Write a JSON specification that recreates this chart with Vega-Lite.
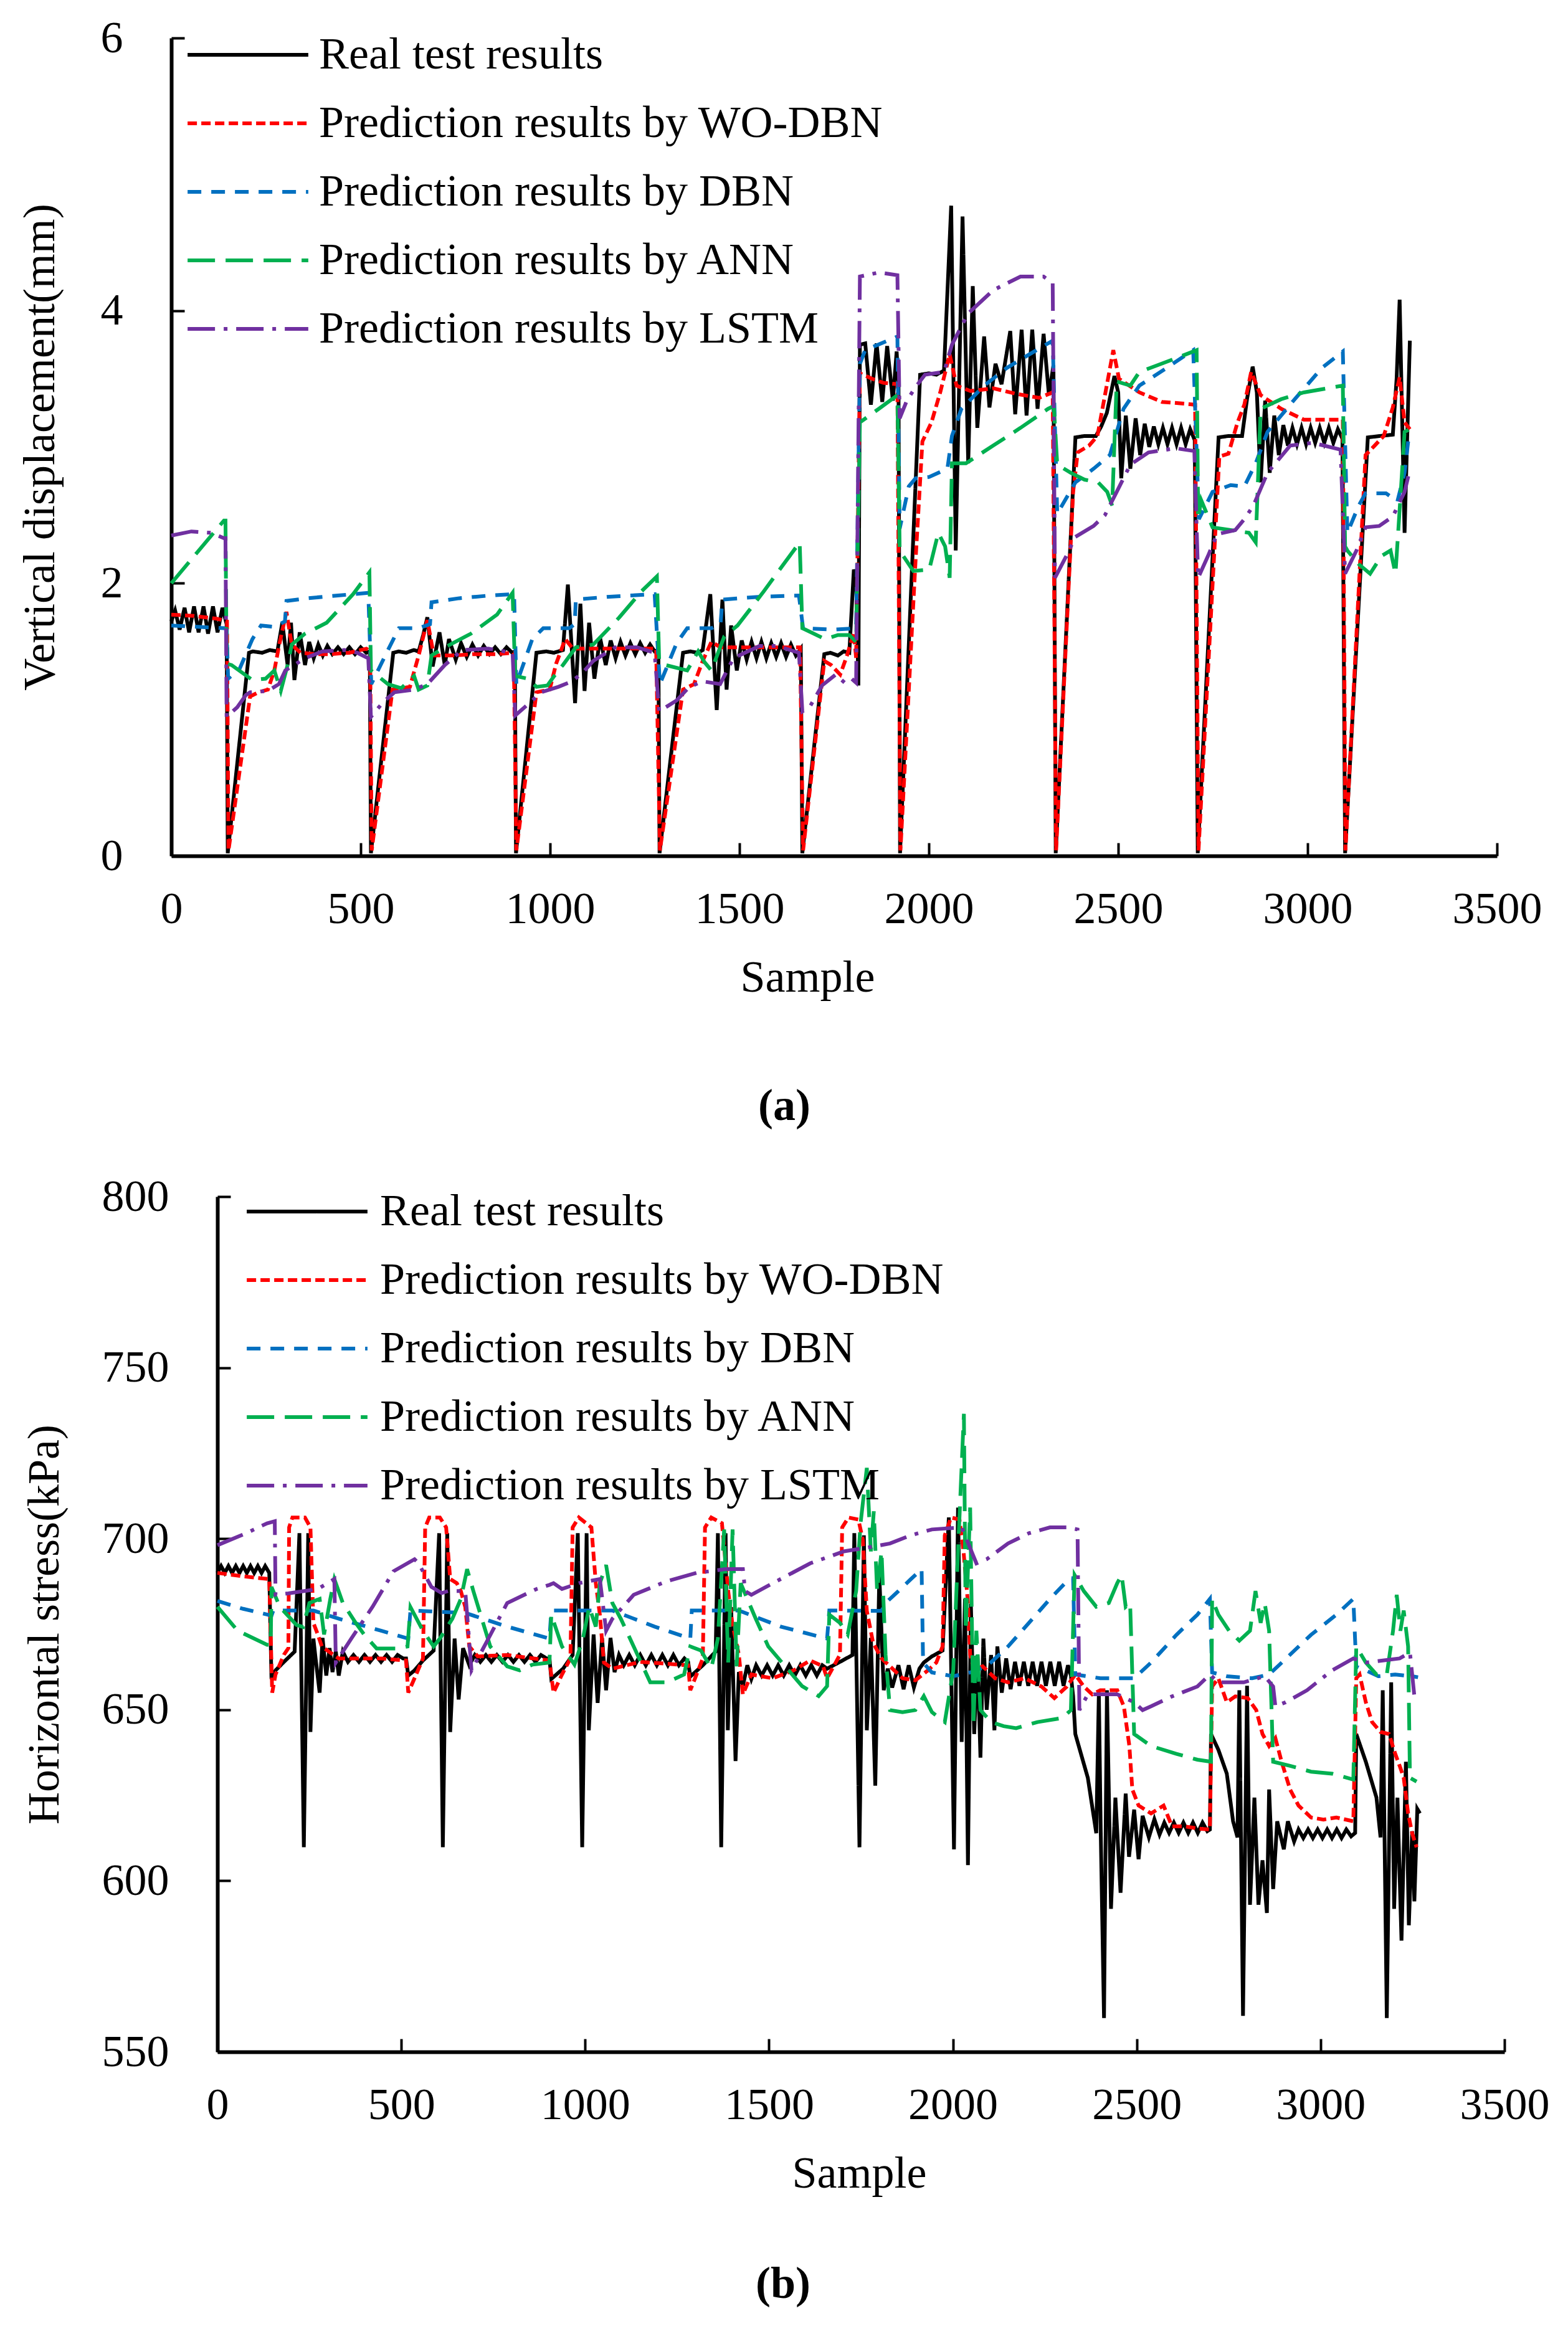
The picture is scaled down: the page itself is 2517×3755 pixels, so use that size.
{
  "$schema": "https://vega.github.io/schema/vega-lite/v6.json",
  "background": "white",
  "padding": {"left": 28, "top": 14, "right": 0, "bottom": 30},
  "config": {
    "font": "Liberation Serif",
    "view": {"stroke": null},
    "axis": {
      "labelFont": "Liberation Serif", "titleFont": "Liberation Serif",
      "labelFontSize": 72, "titleFontSize": 72, "titleFontWeight": "normal",
      "labelColor": "black", "titleColor": "black",
      "domainColor": "black", "domainWidth": 6, "tickColor": "black", "tickWidth": 4,
      "tickSize": -21, "grid": false, "labelPadding": 99
    },
    "legend": {"labelFont": "Liberation Serif", "labelFontSize": 72, "labelColor": "black", "labelLimit": 3000},
    "title": {"font": "Liberation Serif", "fontSize": 72, "fontWeight": "bold", "color": "black"}
  },
  "datasets": {
    "a": [
      {"k":"R","x":0,"y":1.72},{"k":"R","x":10,"y":1.80},{"k":"R","x":22,"y":1.66},{"k":"R","x":35,"y":1.82},{"k":"R","x":47,"y":1.64},{"k":"R","x":60,"y":1.83},{"k":"R","x":72,"y":1.64},{"k":"R","x":85,"y":1.83},{"k":"R","x":97,"y":1.63},{"k":"R","x":110,"y":1.83},{"k":"R","x":122,"y":1.64},{"k":"R","x":135,"y":1.82},{"k":"R","x":146,"y":1.70},{"k":"R","x":149,"y":0.02},{"k":"R","x":205,"y":1.49},{"k":"R","x":215,"y":1.50},{"k":"R","x":240,"y":1.49},{"k":"R","x":260,"y":1.51},{"k":"R","x":280,"y":1.50},{"k":"R","x":293,"y":1.71},{"k":"R","x":307,"y":1.40},{"k":"R","x":316,"y":1.71},{"k":"R","x":325,"y":1.29},{"k":"R","x":339,"y":1.64},{"k":"R","x":353,"y":1.40},{"k":"R","x":364,"y":1.57},{"k":"R","x":376,"y":1.45},{"k":"R","x":388,"y":1.55},{"k":"R","x":400,"y":1.47},{"k":"R","x":412,"y":1.54},{"k":"R","x":425,"y":1.48},{"k":"R","x":440,"y":1.53},{"k":"R","x":455,"y":1.48},{"k":"R","x":470,"y":1.53},{"k":"R","x":485,"y":1.48},{"k":"R","x":500,"y":1.53},{"k":"R","x":515,"y":1.49},{"k":"R","x":524,"y":1.50},{"k":"R","x":527,"y":0.02},{"k":"R","x":586,"y":1.49},{"k":"R","x":600,"y":1.50},{"k":"R","x":620,"y":1.49},{"k":"R","x":640,"y":1.51},{"k":"R","x":653,"y":1.50},{"k":"R","x":665,"y":1.62},{"k":"R","x":676,"y":1.75},{"k":"R","x":690,"y":1.39},{"k":"R","x":708,"y":1.64},{"k":"R","x":722,"y":1.40},{"k":"R","x":733,"y":1.59},{"k":"R","x":751,"y":1.44},{"k":"R","x":765,"y":1.56},{"k":"R","x":780,"y":1.46},{"k":"R","x":795,"y":1.55},{"k":"R","x":810,"y":1.47},{"k":"R","x":825,"y":1.54},{"k":"R","x":840,"y":1.48},{"k":"R","x":855,"y":1.53},{"k":"R","x":870,"y":1.48},{"k":"R","x":885,"y":1.53},{"k":"R","x":900,"y":1.49},{"k":"R","x":907,"y":1.50},{"k":"R","x":910,"y":0.02},{"k":"R","x":964,"y":1.49},{"k":"R","x":990,"y":1.50},{"k":"R","x":1010,"y":1.49},{"k":"R","x":1034,"y":1.51},{"k":"R","x":1047,"y":1.99},{"k":"R","x":1066,"y":1.12},{"k":"R","x":1080,"y":1.85},{"k":"R","x":1091,"y":1.21},{"k":"R","x":1103,"y":1.71},{"k":"R","x":1117,"y":1.30},{"k":"R","x":1132,"y":1.60},{"k":"R","x":1147,"y":1.40},{"k":"R","x":1160,"y":1.58},{"k":"R","x":1173,"y":1.45},{"k":"R","x":1186,"y":1.57},{"k":"R","x":1199,"y":1.47},{"k":"R","x":1212,"y":1.56},{"k":"R","x":1225,"y":1.48},{"k":"R","x":1238,"y":1.56},{"k":"R","x":1251,"y":1.49},{"k":"R","x":1264,"y":1.55},{"k":"R","x":1276,"y":1.50},{"k":"R","x":1286,"y":1.51},{"k":"R","x":1289,"y":0.02},{"k":"R","x":1351,"y":1.49},{"k":"R","x":1370,"y":1.50},{"k":"R","x":1390,"y":1.49},{"k":"R","x":1403,"y":1.51},{"k":"R","x":1423,"y":1.92},{"k":"R","x":1440,"y":1.07},{"k":"R","x":1455,"y":1.88},{"k":"R","x":1466,"y":1.22},{"k":"R","x":1478,"y":1.69},{"k":"R","x":1493,"y":1.36},{"k":"R","x":1506,"y":1.58},{"k":"R","x":1519,"y":1.44},{"k":"R","x":1532,"y":1.57},{"k":"R","x":1545,"y":1.45},{"k":"R","x":1558,"y":1.57},{"k":"R","x":1571,"y":1.45},{"k":"R","x":1584,"y":1.56},{"k":"R","x":1597,"y":1.46},{"k":"R","x":1610,"y":1.56},{"k":"R","x":1623,"y":1.46},{"k":"R","x":1636,"y":1.55},{"k":"R","x":1649,"y":1.47},{"k":"R","x":1662,"y":1.52},{"k":"R","x":1666,"y":0.02},{"k":"R","x":1724,"y":1.48},{"k":"R","x":1740,"y":1.49},{"k":"R","x":1760,"y":1.47},{"k":"R","x":1775,"y":1.50},{"k":"R","x":1790,"y":1.49},{"k":"R","x":1802,"y":2.10},{"k":"R","x":1808,"y":2.05},{"k":"R","x":1814,"y":1.25},{"k":"R","x":1818,"y":3.75},{"k":"R","x":1832,"y":3.76},{"k":"R","x":1847,"y":3.31},{"k":"R","x":1862,"y":3.76},{"k":"R","x":1877,"y":3.33},{"k":"R","x":1890,"y":3.74},{"k":"R","x":1905,"y":3.34},{"k":"R","x":1915,"y":3.70},{"k":"R","x":1920,"y":3.45},{"k":"R","x":1924,"y":0.02},{"k":"R","x":1977,"y":3.53},{"k":"R","x":2000,"y":3.54},{"k":"R","x":2020,"y":3.53},{"k":"R","x":2040,"y":3.56},{"k":"R","x":2059,"y":4.77},{"k":"R","x":2071,"y":2.24},{"k":"R","x":2089,"y":4.69},{"k":"R","x":2104,"y":2.88},{"k":"R","x":2116,"y":4.18},{"k":"R","x":2128,"y":3.14},{"k":"R","x":2146,"y":3.81},{"k":"R","x":2160,"y":3.29},{"k":"R","x":2176,"y":3.61},{"k":"R","x":2192,"y":3.46},{"k":"R","x":2215,"y":3.85},{"k":"R","x":2228,"y":3.24},{"k":"R","x":2245,"y":3.86},{"k":"R","x":2258,"y":3.23},{"k":"R","x":2273,"y":3.86},{"k":"R","x":2287,"y":3.28},{"k":"R","x":2303,"y":3.83},{"k":"R","x":2317,"y":3.38},{"k":"R","x":2329,"y":3.60},{"k":"R","x":2335,"y":0.02},{"k":"R","x":2387,"y":3.07},{"k":"R","x":2410,"y":3.08},{"k":"R","x":2441,"y":3.08},{"k":"R","x":2455,"y":3.15},{"k":"R","x":2470,"y":3.25},{"k":"R","x":2490,"y":3.52},{"k":"R","x":2500,"y":3.40},{"k":"R","x":2508,"y":2.77},{"k":"R","x":2520,"y":3.23},{"k":"R","x":2532,"y":2.84},{"k":"R","x":2546,"y":3.21},{"k":"R","x":2558,"y":2.94},{"k":"R","x":2570,"y":3.17},{"k":"R","x":2582,"y":3.00},{"k":"R","x":2594,"y":3.15},{"k":"R","x":2606,"y":3.02},{"k":"R","x":2618,"y":3.14},{"k":"R","x":2630,"y":3.02},{"k":"R","x":2642,"y":3.14},{"k":"R","x":2654,"y":3.02},{"k":"R","x":2666,"y":3.14},{"k":"R","x":2678,"y":3.02},{"k":"R","x":2690,"y":3.13},{"k":"R","x":2702,"y":3.05},{"k":"R","x":2710,"y":0.02},{"k":"R","x":2765,"y":3.07},{"k":"R","x":2790,"y":3.08},{"k":"R","x":2827,"y":3.08},{"k":"R","x":2840,"y":3.35},{"k":"R","x":2855,"y":3.59},{"k":"R","x":2866,"y":3.40},{"k":"R","x":2876,"y":2.74},{"k":"R","x":2888,"y":3.34},{"k":"R","x":2900,"y":2.81},{"k":"R","x":2912,"y":3.23},{"k":"R","x":2924,"y":2.94},{"k":"R","x":2936,"y":3.16},{"k":"R","x":2948,"y":3.01},{"k":"R","x":2960,"y":3.14},{"k":"R","x":2972,"y":3.02},{"k":"R","x":2984,"y":3.14},{"k":"R","x":2996,"y":3.02},{"k":"R","x":3008,"y":3.14},{"k":"R","x":3020,"y":3.03},{"k":"R","x":3032,"y":3.14},{"k":"R","x":3044,"y":3.03},{"k":"R","x":3056,"y":3.14},{"k":"R","x":3068,"y":3.03},{"k":"R","x":3080,"y":3.13},{"k":"R","x":3092,"y":3.06},{"k":"R","x":3099,"y":0.02},{"k":"R","x":3159,"y":3.07},{"k":"R","x":3190,"y":3.08},{"k":"R","x":3225,"y":3.09},{"k":"R","x":3235,"y":3.50},{"k":"R","x":3243,"y":4.08},{"k":"R","x":3256,"y":2.37},{"k":"R","x":3270,"y":3.78},

      {"k":"W","x":0,"y":1.77},{"k":"W","x":60,"y":1.76},{"k":"W","x":120,"y":1.74},{"k":"W","x":147,"y":1.72},{"k":"W","x":151,"y":0.04},{"k":"W","x":208,"y":1.17},{"k":"W","x":230,"y":1.20},{"k":"W","x":255,"y":1.22},{"k":"W","x":272,"y":1.36},{"k":"W","x":285,"y":1.55},{"k":"W","x":304,"y":1.79},{"k":"W","x":318,"y":1.55},{"k":"W","x":341,"y":1.49},{"k":"W","x":380,"y":1.48},{"k":"W","x":420,"y":1.48},{"k":"W","x":470,"y":1.49},{"k":"W","x":515,"y":1.52},{"k":"W","x":525,"y":1.50},{"k":"W","x":529,"y":0.04},{"k":"W","x":584,"y":1.22},{"k":"W","x":630,"y":1.24},{"k":"W","x":653,"y":1.47},{"k":"W","x":676,"y":1.73},{"k":"W","x":693,"y":1.47},{"k":"W","x":740,"y":1.47},{"k":"W","x":800,"y":1.48},{"k":"W","x":860,"y":1.48},{"k":"W","x":904,"y":1.49},{"k":"W","x":911,"y":0.04},{"k":"W","x":964,"y":1.20},{"k":"W","x":999,"y":1.22},{"k":"W","x":1016,"y":1.41},{"k":"W","x":1040,"y":1.59},{"k":"W","x":1060,"y":1.52},{"k":"W","x":1120,"y":1.52},{"k":"W","x":1200,"y":1.52},{"k":"W","x":1280,"y":1.52},{"k":"W","x":1290,"y":0.04},{"k":"W","x":1351,"y":1.22},{"k":"W","x":1380,"y":1.26},{"k":"W","x":1403,"y":1.43},{"k":"W","x":1426,"y":1.57},{"k":"W","x":1450,"y":1.53},{"k":"W","x":1520,"y":1.53},{"k":"W","x":1600,"y":1.53},{"k":"W","x":1660,"y":1.53},{"k":"W","x":1668,"y":0.04},{"k":"W","x":1724,"y":1.43},{"k":"W","x":1742,"y":1.40},{"k":"W","x":1766,"y":1.33},{"k":"W","x":1784,"y":1.47},{"k":"W","x":1802,"y":1.64},{"k":"W","x":1808,"y":1.45},{"k":"W","x":1818,"y":3.54},{"k":"W","x":1850,"y":3.50},{"k":"W","x":1880,"y":3.47},{"k":"W","x":1917,"y":3.46},{"k":"W","x":1925,"y":0.04},{"k":"W","x":1965,"y":2.17},{"k":"W","x":1983,"y":3.04},{"k":"W","x":2007,"y":3.18},{"k":"W","x":2031,"y":3.41},{"k":"W","x":2055,"y":3.68},{"k":"W","x":2073,"y":3.45},{"k":"W","x":2110,"y":3.41},{"k":"W","x":2170,"y":3.43},{"k":"W","x":2230,"y":3.39},{"k":"W","x":2291,"y":3.36},{"k":"W","x":2327,"y":3.40},{"k":"W","x":2336,"y":0.04},{"k":"W","x":2381,"y":2.67},{"k":"W","x":2393,"y":2.96},{"k":"W","x":2423,"y":3.01},{"k":"W","x":2445,"y":3.08},{"k":"W","x":2465,"y":3.38},{"k":"W","x":2487,"y":3.71},{"k":"W","x":2502,"y":3.50},{"k":"W","x":2556,"y":3.40},{"k":"W","x":2616,"y":3.33},{"k":"W","x":2664,"y":3.32},{"k":"W","x":2703,"y":3.31},{"k":"W","x":2712,"y":0.04},{"k":"W","x":2767,"y":2.93},{"k":"W","x":2791,"y":2.95},{"k":"W","x":2815,"y":3.18},{"k":"W","x":2833,"y":3.31},{"k":"W","x":2851,"y":3.55},{"k":"W","x":2876,"y":3.38},{"k":"W","x":2930,"y":3.28},{"k":"W","x":2990,"y":3.20},{"k":"W","x":3093,"y":3.20},{"k":"W","x":3100,"y":0.04},{"k":"W","x":3153,"y":2.94},{"k":"W","x":3177,"y":3.01},{"k":"W","x":3201,"y":3.08},{"k":"W","x":3225,"y":3.29},{"k":"W","x":3243,"y":3.51},{"k":"W","x":3256,"y":3.18},{"k":"W","x":3270,"y":3.13},

      {"k":"D","x":0,"y":1.69},{"k":"D","x":70,"y":1.68},{"k":"D","x":140,"y":1.67},{"k":"D","x":146,"y":1.66},{"k":"D","x":150,"y":1.30},{"k":"D","x":162,"y":1.33},{"k":"D","x":180,"y":1.37},{"k":"D","x":214,"y":1.59},{"k":"D","x":237,"y":1.69},{"k":"D","x":272,"y":1.68},{"k":"D","x":300,"y":1.72},{"k":"D","x":304,"y":1.87},{"k":"D","x":360,"y":1.89},{"k":"D","x":440,"y":1.91},{"k":"D","x":520,"y":1.93},{"k":"D","x":528,"y":1.26},{"k":"D","x":572,"y":1.51},{"k":"D","x":601,"y":1.67},{"k":"D","x":653,"y":1.67},{"k":"D","x":683,"y":1.70},{"k":"D","x":687,"y":1.86},{"k":"D","x":760,"y":1.89},{"k":"D","x":840,"y":1.91},{"k":"D","x":905,"y":1.92},{"k":"D","x":911,"y":1.26},{"k":"D","x":953,"y":1.59},{"k":"D","x":982,"y":1.67},{"k":"D","x":1051,"y":1.67},{"k":"D","x":1065,"y":1.70},{"k":"D","x":1068,"y":1.88},{"k":"D","x":1150,"y":1.90},{"k":"D","x":1276,"y":1.92},{"k":"D","x":1290,"y":1.26},{"k":"D","x":1334,"y":1.56},{"k":"D","x":1362,"y":1.67},{"k":"D","x":1426,"y":1.67},{"k":"D","x":1450,"y":1.70},{"k":"D","x":1455,"y":1.88},{"k":"D","x":1550,"y":1.90},{"k":"D","x":1657,"y":1.91},{"k":"D","x":1668,"y":1.67},{"k":"D","x":1750,"y":1.66},{"k":"D","x":1808,"y":1.67},{"k":"D","x":1818,"y":3.61},{"k":"D","x":1832,"y":3.71},{"k":"D","x":1917,"y":3.81},{"k":"D","x":1923,"y":2.40},{"k":"D","x":1947,"y":2.71},{"k":"D","x":1965,"y":2.77},{"k":"D","x":2001,"y":2.78},{"k":"D","x":2049,"y":2.84},{"k":"D","x":2061,"y":3.08},{"k":"D","x":2086,"y":3.28},{"k":"D","x":2146,"y":3.45},{"k":"D","x":2206,"y":3.58},{"k":"D","x":2266,"y":3.68},{"k":"D","x":2327,"y":3.78},{"k":"D","x":2339,"y":2.51},{"k":"D","x":2387,"y":2.74},{"k":"D","x":2435,"y":2.84},{"k":"D","x":2478,"y":2.94},{"k":"D","x":2514,"y":3.28},{"k":"D","x":2556,"y":3.45},{"k":"D","x":2628,"y":3.58},{"k":"D","x":2698,"y":3.71},{"k":"D","x":2713,"y":2.47},{"k":"D","x":2749,"y":2.67},{"k":"D","x":2797,"y":2.72},{"k":"D","x":2833,"y":2.71},{"k":"D","x":2863,"y":2.88},{"k":"D","x":2894,"y":3.11},{"k":"D","x":2966,"y":3.35},{"k":"D","x":3038,"y":3.58},{"k":"D","x":3093,"y":3.70},{"k":"D","x":3105,"y":2.37},{"k":"D","x":3135,"y":2.57},{"k":"D","x":3153,"y":2.66},{"k":"D","x":3207,"y":2.66},{"k":"D","x":3237,"y":2.60},{"k":"D","x":3256,"y":2.81},{"k":"D","x":3268,"y":3.10},

      {"k":"A","x":0,"y":2.00},{"k":"A","x":139,"y":2.46},{"k":"A","x":143,"y":2.46},{"k":"A","x":146,"y":1.41},{"k":"A","x":159,"y":1.40},{"k":"A","x":214,"y":1.29},{"k":"A","x":249,"y":1.30},{"k":"A","x":272,"y":1.36},{"k":"A","x":289,"y":1.21},{"k":"A","x":307,"y":1.40},{"k":"A","x":318,"y":1.55},{"k":"A","x":353,"y":1.63},{"k":"A","x":410,"y":1.71},{"k":"A","x":480,"y":1.92},{"k":"A","x":523,"y":2.08},{"k":"A","x":527,"y":1.36},{"k":"A","x":572,"y":1.26},{"k":"A","x":607,"y":1.23},{"k":"A","x":641,"y":1.32},{"k":"A","x":653,"y":1.22},{"k":"A","x":676,"y":1.25},{"k":"A","x":687,"y":1.47},{"k":"A","x":722,"y":1.53},{"k":"A","x":791,"y":1.63},{"k":"A","x":860,"y":1.77},{"k":"A","x":901,"y":1.93},{"k":"A","x":908,"y":1.32},{"k":"A","x":941,"y":1.30},{"k":"A","x":964,"y":1.24},{"k":"A","x":993,"y":1.25},{"k":"A","x":1016,"y":1.34},{"k":"A","x":1034,"y":1.40},{"k":"A","x":1068,"y":1.53},{"k":"A","x":1114,"y":1.55},{"k":"A","x":1183,"y":1.75},{"k":"A","x":1241,"y":1.94},{"k":"A","x":1282,"y":2.05},{"k":"A","x":1288,"y":1.43},{"k":"A","x":1305,"y":1.40},{"k":"A","x":1362,"y":1.36},{"k":"A","x":1391,"y":1.50},{"k":"A","x":1408,"y":1.42},{"k":"A","x":1426,"y":1.36},{"k":"A","x":1460,"y":1.61},{"k":"A","x":1495,"y":1.69},{"k":"A","x":1564,"y":1.94},{"k":"A","x":1622,"y":2.16},{"k":"A","x":1659,"y":2.30},{"k":"A","x":1666,"y":1.67},{"k":"A","x":1674,"y":1.66},{"k":"A","x":1726,"y":1.59},{"k":"A","x":1760,"y":1.62},{"k":"A","x":1790,"y":1.62},{"k":"A","x":1808,"y":1.57},{"k":"A","x":1818,"y":3.18},{"k":"A","x":1868,"y":3.28},{"k":"A","x":1917,"y":3.38},{"k":"A","x":1923,"y":2.24},{"k":"A","x":1959,"y":2.09},{"k":"A","x":2001,"y":2.10},{"k":"A","x":2025,"y":2.37},{"k":"A","x":2043,"y":2.27},{"k":"A","x":2055,"y":2.04},{"k":"A","x":2061,"y":2.88},{"k":"A","x":2098,"y":2.88},{"k":"A","x":2170,"y":3.01},{"k":"A","x":2242,"y":3.14},{"k":"A","x":2315,"y":3.28},{"k":"A","x":2330,"y":3.30},{"k":"A","x":2339,"y":2.87},{"k":"A","x":2375,"y":2.81},{"k":"A","x":2411,"y":2.76},{"k":"A","x":2447,"y":2.74},{"k":"A","x":2471,"y":2.67},{"k":"A","x":2484,"y":2.57},{"k":"A","x":2496,"y":3.48},{"k":"A","x":2532,"y":3.45},{"k":"A","x":2556,"y":3.55},{"k":"A","x":2604,"y":3.60},{"k":"A","x":2652,"y":3.65},{"k":"A","x":2707,"y":3.71},{"k":"A","x":2711,"y":2.47},{"k":"A","x":2719,"y":2.61},{"k":"A","x":2749,"y":2.41},{"k":"A","x":2797,"y":2.39},{"k":"A","x":2845,"y":2.37},{"k":"A","x":2863,"y":2.30},{"k":"A","x":2876,"y":3.28},{"k":"A","x":2930,"y":3.35},{"k":"A","x":2990,"y":3.40},{"k":"A","x":3093,"y":3.45},{"k":"A","x":3099,"y":2.27},{"k":"A","x":3105,"y":2.24},{"k":"A","x":3135,"y":2.14},{"k":"A","x":3165,"y":2.07},{"k":"A","x":3195,"y":2.20},{"k":"A","x":3219,"y":2.24},{"k":"A","x":3232,"y":2.07},{"k":"A","x":3243,"y":2.54},{"k":"A","x":3256,"y":3.11},{"k":"A","x":3270,"y":3.13},

      {"k":"L","x":0,"y":2.35},{"k":"L","x":53,"y":2.38},{"k":"L","x":105,"y":2.37},{"k":"L","x":139,"y":2.33},{"k":"L","x":143,"y":2.33},{"k":"L","x":146,"y":1.02},{"k":"L","x":174,"y":1.09},{"k":"L","x":197,"y":1.18},{"k":"L","x":208,"y":1.20},{"k":"L","x":255,"y":1.21},{"k":"L","x":284,"y":1.26},{"k":"L","x":301,"y":1.36},{"k":"L","x":353,"y":1.45},{"k":"L","x":399,"y":1.50},{"k":"L","x":457,"y":1.51},{"k":"L","x":491,"y":1.49},{"k":"L","x":520,"y":1.45},{"k":"L","x":527,"y":1.02},{"k":"L","x":560,"y":1.13},{"k":"L","x":589,"y":1.20},{"k":"L","x":641,"y":1.22},{"k":"L","x":676,"y":1.26},{"k":"L","x":722,"y":1.40},{"k":"L","x":768,"y":1.51},{"k":"L","x":837,"y":1.52},{"k":"L","x":901,"y":1.49},{"k":"L","x":908,"y":1.03},{"k":"L","x":953,"y":1.14},{"k":"L","x":976,"y":1.20},{"k":"L","x":1022,"y":1.24},{"k":"L","x":1057,"y":1.28},{"k":"L","x":1085,"y":1.34},{"k":"L","x":1114,"y":1.43},{"k":"L","x":1172,"y":1.53},{"k":"L","x":1230,"y":1.53},{"k":"L","x":1276,"y":1.49},{"k":"L","x":1288,"y":1.06},{"k":"L","x":1334,"y":1.14},{"k":"L","x":1368,"y":1.24},{"k":"L","x":1403,"y":1.28},{"k":"L","x":1449,"y":1.26},{"k":"L","x":1484,"y":1.45},{"k":"L","x":1553,"y":1.54},{"k":"L","x":1599,"y":1.54},{"k":"L","x":1657,"y":1.49},{"k":"L","x":1666,"y":1.06},{"k":"L","x":1687,"y":1.10},{"k":"L","x":1718,"y":1.25},{"k":"L","x":1754,"y":1.33},{"k":"L","x":1778,"y":1.27},{"k":"L","x":1796,"y":1.30},{"k":"L","x":1808,"y":1.27},{"k":"L","x":1818,"y":4.25},{"k":"L","x":1868,"y":4.28},{"k":"L","x":1917,"y":4.26},{"k":"L","x":1923,"y":3.21},{"k":"L","x":1942,"y":3.34},{"k":"L","x":1965,"y":3.44},{"k":"L","x":1990,"y":3.53},{"k":"L","x":2040,"y":3.55},{"k":"L","x":2061,"y":3.75},{"k":"L","x":2104,"y":3.98},{"k":"L","x":2170,"y":4.15},{"k":"L","x":2242,"y":4.25},{"k":"L","x":2303,"y":4.25},{"k":"L","x":2327,"y":4.20},{"k":"L","x":2333,"y":2.04},{"k":"L","x":2363,"y":2.20},{"k":"L","x":2387,"y":2.34},{"k":"L","x":2435,"y":2.42},{"k":"L","x":2465,"y":2.50},{"k":"L","x":2496,"y":2.67},{"k":"L","x":2532,"y":2.87},{"k":"L","x":2580,"y":2.96},{"k":"L","x":2652,"y":2.99},{"k":"L","x":2701,"y":2.97},{"k":"L","x":2711,"y":2.04},{"k":"L","x":2737,"y":2.20},{"k":"L","x":2761,"y":2.36},{"k":"L","x":2809,"y":2.39},{"k":"L","x":2833,"y":2.47},{"k":"L","x":2857,"y":2.57},{"k":"L","x":2894,"y":2.81},{"k":"L","x":2954,"y":3.01},{"k":"L","x":3014,"y":3.03},{"k":"L","x":3087,"y":2.98},{"k":"L","x":3099,"y":2.07},{"k":"L","x":3129,"y":2.24},{"k":"L","x":3153,"y":2.41},{"k":"L","x":3189,"y":2.42},{"k":"L","x":3225,"y":2.49},{"k":"L","x":3256,"y":2.67},{"k":"L","x":3268,"y":2.81}
    ],
    "b": [
      {"k":"R","x":0,"y":690},{"k":"R","x":10,"y":692},{"k":"R","x":20,"y":690},{"k":"R","x":30,"y":692},{"k":"R","x":40,"y":690},{"k":"R","x":50,"y":692},{"k":"R","x":60,"y":690},{"k":"R","x":70,"y":692},{"k":"R","x":80,"y":690},{"k":"R","x":90,"y":692},{"k":"R","x":100,"y":690},{"k":"R","x":110,"y":692},{"k":"R","x":120,"y":690},{"k":"R","x":130,"y":692},{"k":"R","x":141,"y":690},{"k":"R","x":147,"y":659},{"k":"R","x":158,"y":661.5},{"k":"R","x":181,"y":664},{"k":"R","x":210,"y":667},{"k":"R","x":223,"y":701.6},{"k":"R","x":235,"y":609.8},{"k":"R","x":247,"y":701.6},{"k":"R","x":253,"y":643.5},{"k":"R","x":261,"y":670.8},{"k":"R","x":267,"y":665},{"k":"R","x":278,"y":655},{"k":"R","x":286,"y":671},{"k":"R","x":296,"y":660},{"k":"R","x":305,"y":668},{"k":"R","x":313,"y":661},{"k":"R","x":322,"y":667},{"k":"R","x":330,"y":660},{"k":"R","x":341,"y":667},{"k":"R","x":355,"y":664},{"k":"R","x":370,"y":666},{"k":"R","x":385,"y":664},{"k":"R","x":400,"y":666},{"k":"R","x":415,"y":664},{"k":"R","x":430,"y":666},{"k":"R","x":445,"y":664},{"k":"R","x":460,"y":666},{"k":"R","x":475,"y":664},{"k":"R","x":490,"y":666},{"k":"R","x":505,"y":665},{"k":"R","x":513,"y":665},{"k":"R","x":519,"y":660},{"k":"R","x":536,"y":661.5},{"k":"R","x":559,"y":664.4},{"k":"R","x":588,"y":667.3},{"k":"R","x":603,"y":701.6},{"k":"R","x":613,"y":609.8},{"k":"R","x":625,"y":701.6},{"k":"R","x":633,"y":643.5},{"k":"R","x":645,"y":670.8},{"k":"R","x":656,"y":653},{"k":"R","x":668,"y":668},{"k":"R","x":685,"y":663},{"k":"R","x":700,"y":666},{"k":"R","x":715,"y":664},{"k":"R","x":730,"y":666},{"k":"R","x":745,"y":664},{"k":"R","x":760,"y":666},{"k":"R","x":775,"y":664},{"k":"R","x":790,"y":666},{"k":"R","x":805,"y":664},{"k":"R","x":820,"y":666},{"k":"R","x":835,"y":664},{"k":"R","x":850,"y":666},{"k":"R","x":865,"y":664},{"k":"R","x":880,"y":666},{"k":"R","x":895,"y":665},{"k":"R","x":903,"y":665},{"k":"R","x":908,"y":659},{"k":"R","x":940,"y":662},{"k":"R","x":966,"y":666},{"k":"R","x":980,"y":701.6},{"k":"R","x":992,"y":609.8},{"k":"R","x":1004,"y":701.6},{"k":"R","x":1010,"y":644},{"k":"R","x":1023,"y":672},{"k":"R","x":1034,"y":652},{"k":"R","x":1046,"y":671},{"k":"R","x":1057,"y":655.7},{"k":"R","x":1069,"y":671},{"k":"R","x":1080,"y":661},{"k":"R","x":1092,"y":666},{"k":"R","x":1105,"y":663},{"k":"R","x":1120,"y":666},{"k":"R","x":1135,"y":663},{"k":"R","x":1150,"y":666},{"k":"R","x":1165,"y":663},{"k":"R","x":1180,"y":666},{"k":"R","x":1195,"y":663},{"k":"R","x":1210,"y":666},{"k":"R","x":1225,"y":663},{"k":"R","x":1240,"y":666},{"k":"R","x":1255,"y":663},{"k":"R","x":1270,"y":665},{"k":"R","x":1280,"y":664},{"k":"R","x":1286,"y":659.7},{"k":"R","x":1320,"y":663},{"k":"R","x":1355,"y":667},{"k":"R","x":1361,"y":701.6},{"k":"R","x":1370,"y":609.8},{"k":"R","x":1382,"y":701.6},{"k":"R","x":1388,"y":644},{"k":"R","x":1397,"y":680},{"k":"R","x":1409,"y":635},{"k":"R","x":1418,"y":661},{"k":"R","x":1429,"y":657},{"k":"R","x":1441,"y":663},{"k":"R","x":1452,"y":659},{"k":"R","x":1465,"y":663},{"k":"R","x":1480,"y":660},{"k":"R","x":1495,"y":663},{"k":"R","x":1510,"y":660},{"k":"R","x":1525,"y":663},{"k":"R","x":1540,"y":660},{"k":"R","x":1555,"y":663},{"k":"R","x":1570,"y":660},{"k":"R","x":1585,"y":663},{"k":"R","x":1600,"y":660},{"k":"R","x":1615,"y":663},{"k":"R","x":1630,"y":660},{"k":"R","x":1645,"y":663},{"k":"R","x":1658,"y":662},{"k":"R","x":1693,"y":664},{"k":"R","x":1727,"y":666},{"k":"R","x":1732,"y":701.6},{"k":"R","x":1746,"y":609.8},{"k":"R","x":1758,"y":701},{"k":"R","x":1766,"y":644},{"k":"R","x":1777,"y":671},{"k":"R","x":1789,"y":627.8},{"k":"R","x":1800,"y":689.4},{"k":"R","x":1812,"y":655.7},{"k":"R","x":1823,"y":662},{"k":"R","x":1835,"y":656.5},{"k":"R","x":1852,"y":663},{"k":"R","x":1866,"y":656},{"k":"R","x":1880,"y":663},{"k":"R","x":1894,"y":656.5},{"k":"R","x":1909,"y":662},{"k":"R","x":1921,"y":663.8},{"k":"R","x":1943,"y":665.6},{"k":"R","x":1972,"y":667.3},{"k":"R","x":1989,"y":706.2},{"k":"R","x":2003,"y":609.2},{"k":"R","x":2014,"y":709.1},{"k":"R","x":2024,"y":640.6},{"k":"R","x":2033,"y":682.4},{"k":"R","x":2041,"y":604.6},{"k":"R","x":2049,"y":681},{"k":"R","x":2058,"y":642.9},{"k":"R","x":2067,"y":666},{"k":"R","x":2075,"y":636},{"k":"R","x":2083,"y":670.8},{"k":"R","x":2092,"y":650},{"k":"R","x":2104,"y":666},{"k":"R","x":2113,"y":644},{"k":"R","x":2121,"y":668.5},{"k":"R","x":2133,"y":655},{"k":"R","x":2145,"y":665},{"k":"R","x":2157,"y":656},{"k":"R","x":2169,"y":664},{"k":"R","x":2181,"y":657},{"k":"R","x":2193,"y":664},{"k":"R","x":2205,"y":657},{"k":"R","x":2217,"y":664},{"k":"R","x":2229,"y":657},{"k":"R","x":2241,"y":664},{"k":"R","x":2253,"y":657},{"k":"R","x":2265,"y":664},{"k":"R","x":2277,"y":657},{"k":"R","x":2289,"y":664},{"k":"R","x":2301,"y":657},{"k":"R","x":2313,"y":663},{"k":"R","x":2321,"y":660},{"k":"R","x":2327,"y":654},{"k":"R","x":2333,"y":642.9},{"k":"R","x":2367,"y":630.1},{"k":"R","x":2390,"y":613.9},{"k":"R","x":2397,"y":655},{"k":"R","x":2402,"y":615},{"k":"R","x":2411,"y":559.9},{"k":"R","x":2419,"y":655.7},{"k":"R","x":2430,"y":591.8},{"k":"R","x":2442,"y":624.3},{"k":"R","x":2456,"y":596.5},{"k":"R","x":2470,"y":625.5},{"k":"R","x":2479,"y":607},{"k":"R","x":2493,"y":620.8},{"k":"R","x":2505,"y":606.3},{"k":"R","x":2516,"y":619},{"k":"R","x":2533,"y":612.7},{"k":"R","x":2548,"y":618},{"k":"R","x":2562,"y":613.5},{"k":"R","x":2575,"y":617},{"k":"R","x":2588,"y":614},{"k":"R","x":2601,"y":617},{"k":"R","x":2614,"y":614},{"k":"R","x":2627,"y":617},{"k":"R","x":2640,"y":614},{"k":"R","x":2653,"y":617},{"k":"R","x":2666,"y":614},{"k":"R","x":2679,"y":617},{"k":"R","x":2692,"y":614.5},{"k":"R","x":2699,"y":615},{"k":"R","x":2702,"y":642.9},{"k":"R","x":2722,"y":638.3},{"k":"R","x":2745,"y":631.3},{"k":"R","x":2762,"y":617.4},{"k":"R","x":2774,"y":612.7},{"k":"R","x":2779,"y":655.7},{"k":"R","x":2789,"y":560.5},{"k":"R","x":2800,"y":657},{"k":"R","x":2808,"y":593},{"k":"R","x":2820,"y":624.3},{"k":"R","x":2831,"y":593},{"k":"R","x":2842,"y":606},{"k":"R","x":2854,"y":590.6},{"k":"R","x":2860,"y":626.7},{"k":"R","x":2871,"y":597.6},{"k":"R","x":2882,"y":617.4},{"k":"R","x":2900,"y":609.2},{"k":"R","x":2911,"y":617.4},{"k":"R","x":2928,"y":611.5},{"k":"R","x":2940,"y":615},{"k":"R","x":2953,"y":612.5},{"k":"R","x":2966,"y":615},{"k":"R","x":2979,"y":612.5},{"k":"R","x":2992,"y":615},{"k":"R","x":3005,"y":612.5},{"k":"R","x":3018,"y":615},{"k":"R","x":3031,"y":612.5},{"k":"R","x":3044,"y":615},{"k":"R","x":3057,"y":612.5},{"k":"R","x":3070,"y":615},{"k":"R","x":3083,"y":613},{"k":"R","x":3094,"y":614},{"k":"R","x":3097,"y":642.9},{"k":"R","x":3123,"y":634.8},{"k":"R","x":3152,"y":624.3},{"k":"R","x":3163,"y":612.7},{"k":"R","x":3169,"y":655.7},{"k":"R","x":3180,"y":559.9},{"k":"R","x":3192,"y":658},{"k":"R","x":3200,"y":591.8},{"k":"R","x":3209,"y":624.3},{"k":"R","x":3220,"y":582.5},{"k":"R","x":3232,"y":634.8},{"k":"R","x":3240,"y":587},{"k":"R","x":3249,"y":614.5},{"k":"R","x":3255,"y":594},{"k":"R","x":3263,"y":621},{"k":"R","x":3270,"y":619.7},

      {"k":"W","x":0,"y":690},{"k":"W","x":70,"y":689},{"k":"W","x":141,"y":688.2},{"k":"W","x":149,"y":655},{"k":"W","x":158,"y":660.3},{"k":"W","x":181,"y":666.1},{"k":"W","x":193,"y":668},{"k":"W","x":195,"y":703.3},{"k":"W","x":204,"y":706.2},{"k":"W","x":238,"y":706.2},{"k":"W","x":253,"y":703.3},{"k":"W","x":261,"y":675.4},{"k":"W","x":273,"y":672},{"k":"W","x":284,"y":668.5},{"k":"W","x":307,"y":666.7},{"k":"W","x":330,"y":665},{"k":"W","x":445,"y":665},{"k":"W","x":513,"y":664.4},{"k":"W","x":519,"y":655},{"k":"W","x":536,"y":659.2},{"k":"W","x":559,"y":665},{"k":"W","x":565,"y":703.3},{"k":"W","x":576,"y":706.2},{"k":"W","x":605,"y":706.2},{"k":"W","x":622,"y":703.3},{"k":"W","x":633,"y":688.2},{"k":"W","x":651,"y":687},{"k":"W","x":662,"y":684.7},{"k":"W","x":674,"y":680},{"k":"W","x":685,"y":668.5},{"k":"W","x":708,"y":665.6},{"k":"W","x":788,"y":666},{"k":"W","x":903,"y":664.4},{"k":"W","x":914,"y":655},{"k":"W","x":937,"y":660.3},{"k":"W","x":960,"y":665},{"k":"W","x":966,"y":703.3},{"k":"W","x":983,"y":706.2},{"k":"W","x":1017,"y":703.3},{"k":"W","x":1029,"y":687},{"k":"W","x":1040,"y":677.8},{"k":"W","x":1051,"y":663.8},{"k":"W","x":1074,"y":662},{"k":"W","x":1150,"y":664},{"k":"W","x":1280,"y":663},{"k":"W","x":1286,"y":655.7},{"k":"W","x":1303,"y":660.3},{"k":"W","x":1320,"y":665},{"k":"W","x":1326,"y":703.3},{"k":"W","x":1343,"y":706.2},{"k":"W","x":1372,"y":704.5},{"k":"W","x":1389,"y":684.7},{"k":"W","x":1400,"y":675.4},{"k":"W","x":1418,"y":666.1},{"k":"W","x":1429,"y":654.5},{"k":"W","x":1452,"y":660.3},{"k":"W","x":1510,"y":659.2},{"k":"W","x":1567,"y":661.5},{"k":"W","x":1612,"y":664.4},{"k":"W","x":1647,"y":662.7},{"k":"W","x":1658,"y":659.2},{"k":"W","x":1693,"y":666.1},{"k":"W","x":1699,"y":703.3},{"k":"W","x":1716,"y":706.2},{"k":"W","x":1743,"y":705.6},{"k":"W","x":1755,"y":699.8},{"k":"W","x":1766,"y":678.9},{"k":"W","x":1783,"y":669.6},{"k":"W","x":1806,"y":665},{"k":"W","x":1829,"y":662.7},{"k":"W","x":1863,"y":659.2},{"k":"W","x":1898,"y":658.6},{"k":"W","x":1932,"y":661.5},{"k":"W","x":1955,"y":663.8},{"k":"W","x":1972,"y":668.5},{"k":"W","x":1978,"y":701},{"k":"W","x":1995,"y":706.2},{"k":"W","x":2018,"y":705.6},{"k":"W","x":2029,"y":696.3},{"k":"W","x":2041,"y":681.2},{"k":"W","x":2047,"y":666.1},{"k":"W","x":2058,"y":661.5},{"k":"W","x":2081,"y":662.7},{"k":"W","x":2115,"y":659.2},{"k":"W","x":2150,"y":658},{"k":"W","x":2195,"y":659.2},{"k":"W","x":2241,"y":656.8},{"k":"W","x":2276,"y":653.4},{"k":"W","x":2310,"y":656.8},{"k":"W","x":2333,"y":660.3},{"k":"W","x":2356,"y":656.8},{"k":"W","x":2379,"y":654.5},{"k":"W","x":2401,"y":655.7},{"k":"W","x":2447,"y":655.7},{"k":"W","x":2465,"y":651},{"k":"W","x":2480,"y":639.4},{"k":"W","x":2488,"y":626.7},{"k":"W","x":2505,"y":622},{"k":"W","x":2539,"y":619.7},{"k":"W","x":2573,"y":622},{"k":"W","x":2596,"y":615.9},{"k":"W","x":2631,"y":615.9},{"k":"W","x":2665,"y":615.3},{"k":"W","x":2699,"y":615},{"k":"W","x":2705,"y":656.8},{"k":"W","x":2722,"y":659.2},{"k":"W","x":2745,"y":652.2},{"k":"W","x":2768,"y":653.9},{"k":"W","x":2802,"y":653.4},{"k":"W","x":2825,"y":649.9},{"k":"W","x":2842,"y":642.9},{"k":"W","x":2860,"y":639.4},{"k":"W","x":2877,"y":641.7},{"k":"W","x":2894,"y":634.8},{"k":"W","x":2917,"y":626.7},{"k":"W","x":2940,"y":622},{"k":"W","x":2974,"y":618.5},{"k":"W","x":3008,"y":617.9},{"k":"W","x":3043,"y":618.5},{"k":"W","x":3089,"y":617.4},{"k":"W","x":3097,"y":659.2},{"k":"W","x":3106,"y":660.3},{"k":"W","x":3123,"y":652.2},{"k":"W","x":3140,"y":646.4},{"k":"W","x":3163,"y":643.5},{"k":"W","x":3186,"y":642.9},{"k":"W","x":3203,"y":637.1},{"k":"W","x":3215,"y":633.6},{"k":"W","x":3226,"y":630.1},{"k":"W","x":3238,"y":619.7},{"k":"W","x":3249,"y":613.9},{"k":"W","x":3261,"y":609.8},

      {"k":"D","x":0,"y":681.8},{"k":"D","x":70,"y":679.5},{"k":"D","x":140,"y":677.7},{"k":"D","x":147,"y":677.5},{"k":"D","x":152,"y":679},{"k":"D","x":261,"y":679},{"k":"D","x":330,"y":676.6},{"k":"D","x":445,"y":673.1},{"k":"D","x":519,"y":670.8},{"k":"D","x":525,"y":679},{"k":"D","x":674,"y":678.3},{"k":"D","x":788,"y":674.3},{"k":"D","x":903,"y":670.8},{"k":"D","x":908,"y":679},{"k":"D","x":1074,"y":679},{"k":"D","x":1189,"y":674.3},{"k":"D","x":1286,"y":670.8},{"k":"D","x":1290,"y":679},{"k":"D","x":1418,"y":679},{"k":"D","x":1532,"y":674.3},{"k":"D","x":1658,"y":670.8},{"k":"D","x":1664,"y":679},{"k":"D","x":1806,"y":678.9},{"k":"D","x":1817,"y":681.2},{"k":"D","x":1852,"y":684.7},{"k":"D","x":1886,"y":688.2},{"k":"D","x":1915,"y":691.1},{"k":"D","x":1919,"y":663.8},{"k":"D","x":1943,"y":660.9},{"k":"D","x":2001,"y":659.8},{"k":"D","x":2047,"y":660.9},{"k":"D","x":2092,"y":662.7},{"k":"D","x":2150,"y":668.5},{"k":"D","x":2207,"y":675.4},{"k":"D","x":2264,"y":682.4},{"k":"D","x":2316,"y":688.2},{"k":"D","x":2327,"y":688.5},{"k":"D","x":2333,"y":660.3},{"k":"D","x":2401,"y":659.2},{"k":"D","x":2493,"y":659.2},{"k":"D","x":2539,"y":663.8},{"k":"D","x":2608,"y":671.9},{"k":"D","x":2665,"y":677.8},{"k":"D","x":2699,"y":682.4},{"k":"D","x":2705,"y":660.9},{"k":"D","x":2745,"y":659.8},{"k":"D","x":2814,"y":659.2},{"k":"D","x":2860,"y":660.3},{"k":"D","x":2917,"y":666.1},{"k":"D","x":2974,"y":671.9},{"k":"D","x":3043,"y":677.8},{"k":"D","x":3089,"y":682.4},{"k":"D","x":3097,"y":662.7},{"k":"D","x":3123,"y":661.5},{"k":"D","x":3157,"y":659.8},{"k":"D","x":3203,"y":660.3},{"k":"D","x":3249,"y":659.8},{"k":"D","x":3265,"y":659.5},

      {"k":"A","x":0,"y":680.1},{"k":"A","x":55,"y":673.1},{"k":"A","x":135,"y":669},{"k":"A","x":145,"y":669},{"k":"A","x":147,"y":685.9},{"k":"A","x":170,"y":680},{"k":"A","x":215,"y":674.8},{"k":"A","x":233,"y":674.2},{"k":"A","x":250,"y":681.2},{"k":"A","x":278,"y":682.4},{"k":"A","x":290,"y":672},{"k":"A","x":307,"y":682.4},{"k":"A","x":318,"y":688.2},{"k":"A","x":341,"y":681.2},{"k":"A","x":376,"y":675.4},{"k":"A","x":399,"y":672},{"k":"A","x":433,"y":667.9},{"k":"A","x":490,"y":667.9},{"k":"A","x":517,"y":668.5},{"k":"A","x":525,"y":680},{"k":"A","x":559,"y":673.1},{"k":"A","x":588,"y":668.5},{"k":"A","x":605,"y":670.8},{"k":"A","x":639,"y":676.6},{"k":"A","x":662,"y":682.4},{"k":"A","x":679,"y":691.1},{"k":"A","x":696,"y":684.7},{"k":"A","x":719,"y":676.6},{"k":"A","x":742,"y":668.5},{"k":"A","x":788,"y":662.7},{"k":"A","x":822,"y":661.5},{"k":"A","x":857,"y":663.2},{"k":"A","x":903,"y":663.8},{"k":"A","x":908,"y":677.8},{"k":"A","x":937,"y":668.5},{"k":"A","x":971,"y":663.2},{"k":"A","x":994,"y":670.8},{"k":"A","x":1011,"y":680.1},{"k":"A","x":1029,"y":674.3},{"k":"A","x":1040,"y":687},{"k":"A","x":1057,"y":692.3},{"k":"A","x":1074,"y":681.2},{"k":"A","x":1097,"y":676.6},{"k":"A","x":1132,"y":668.5},{"k":"A","x":1177,"y":658},{"k":"A","x":1223,"y":658},{"k":"A","x":1269,"y":660.3},{"k":"A","x":1286,"y":668.5},{"k":"A","x":1315,"y":667.3},{"k":"A","x":1343,"y":662.1},{"k":"A","x":1361,"y":670.8},{"k":"A","x":1378,"y":702.7},{"k":"A","x":1389,"y":663.8},{"k":"A","x":1401,"y":702.7},{"k":"A","x":1412,"y":662.7},{"k":"A","x":1423,"y":687},{"k":"A","x":1441,"y":682.4},{"k":"A","x":1464,"y":676.6},{"k":"A","x":1498,"y":668.5},{"k":"A","x":1544,"y":662.7},{"k":"A","x":1590,"y":656.9},{"k":"A","x":1635,"y":654},{"k":"A","x":1658,"y":656.9},{"k":"A","x":1664,"y":677.8},{"k":"A","x":1693,"y":675.4},{"k":"A","x":1714,"y":672},{"k":"A","x":1737,"y":684.7},{"k":"A","x":1749,"y":704.5},{"k":"A","x":1766,"y":720.7},{"k":"A","x":1777,"y":696.3},{"k":"A","x":1785,"y":708},{"k":"A","x":1794,"y":684.7},{"k":"A","x":1806,"y":696.3},{"k":"A","x":1817,"y":666.1},{"k":"A","x":1829,"y":649.9},{"k":"A","x":1863,"y":649.3},{"k":"A","x":1898,"y":649.9},{"k":"A","x":1921,"y":654},{"k":"A","x":1943,"y":649.3},{"k":"A","x":1978,"y":646.4},{"k":"A","x":2001,"y":661.5},{"k":"A","x":2014,"y":696.3},{"k":"A","x":2030,"y":736.5},{"k":"A","x":2035,"y":673.1},{"k":"A","x":2047,"y":709.1},{"k":"A","x":2056,"y":645.2},{"k":"A","x":2064,"y":673.1},{"k":"A","x":2075,"y":649.9},{"k":"A","x":2104,"y":646.4},{"k":"A","x":2138,"y":645.2},{"k":"A","x":2172,"y":644.6},{"k":"A","x":2230,"y":646.4},{"k":"A","x":2298,"y":647.6},{"k":"A","x":2321,"y":649.9},{"k":"A","x":2331,"y":689.4},{"k":"A","x":2356,"y":684.7},{"k":"A","x":2390,"y":680.1},{"k":"A","x":2424,"y":681.2},{"k":"A","x":2447,"y":687},{"k":"A","x":2459,"y":689.4},{"k":"A","x":2470,"y":680.1},{"k":"A","x":2482,"y":681.2},{"k":"A","x":2493,"y":642.9},{"k":"A","x":2539,"y":639.4},{"k":"A","x":2608,"y":637.1},{"k":"A","x":2665,"y":635.4},{"k":"A","x":2702,"y":634.8},{"k":"A","x":2705,"y":682.4},{"k":"A","x":2722,"y":677.8},{"k":"A","x":2751,"y":673.1},{"k":"A","x":2779,"y":670.2},{"k":"A","x":2808,"y":673.1},{"k":"A","x":2823,"y":684.7},{"k":"A","x":2837,"y":675.4},{"k":"A","x":2848,"y":681.2},{"k":"A","x":2860,"y":673.1},{"k":"A","x":2871,"y":634.8},{"k":"A","x":2917,"y":633.6},{"k":"A","x":2974,"y":631.9},{"k":"A","x":3032,"y":631.3},{"k":"A","x":3089,"y":629.6},{"k":"A","x":3097,"y":668.5},{"k":"A","x":3123,"y":663.8},{"k":"A","x":3152,"y":660.3},{"k":"A","x":3180,"y":660.3},{"k":"A","x":3197,"y":673.1},{"k":"A","x":3207,"y":683.6},{"k":"A","x":3217,"y":673.1},{"k":"A","x":3226,"y":679},{"k":"A","x":3238,"y":668.5},{"k":"A","x":3243,"y":630.1},{"k":"A","x":3261,"y":629},

      {"k":"L","x":0,"y":698.1},{"k":"L","x":78,"y":701.6},{"k":"L","x":135,"y":704.5},{"k":"L","x":156,"y":705.1},{"k":"L","x":158,"y":683.6},{"k":"L","x":193,"y":684},{"k":"L","x":273,"y":685.3},{"k":"L","x":318,"y":688.2},{"k":"L","x":322,"y":663.8},{"k":"L","x":364,"y":670.8},{"k":"L","x":422,"y":680.1},{"k":"L","x":479,"y":690.5},{"k":"L","x":536,"y":694},{"k":"L","x":547,"y":692.8},{"k":"L","x":582,"y":685.9},{"k":"L","x":610,"y":684.1},{"k":"L","x":627,"y":684.7},{"k":"L","x":674,"y":684.7},{"k":"L","x":691,"y":661.5},{"k":"L","x":731,"y":669.6},{"k":"L","x":788,"y":681.2},{"k":"L","x":868,"y":685.3},{"k":"L","x":903,"y":686.5},{"k":"L","x":914,"y":687},{"k":"L","x":937,"y":685.3},{"k":"L","x":983,"y":687},{"k":"L","x":1040,"y":688.2},{"k":"L","x":1057,"y":673.1},{"k":"L","x":1074,"y":676.6},{"k":"L","x":1132,"y":683.6},{"k":"L","x":1223,"y":687.6},{"k":"L","x":1303,"y":690},{"k":"L","x":1383,"y":691.1},{"k":"L","x":1429,"y":691.1},{"k":"L","x":1435,"y":684.7},{"k":"L","x":1452,"y":683.6},{"k":"L","x":1521,"y":687.6},{"k":"L","x":1612,"y":692.8},{"k":"L","x":1704,"y":696.3},{"k":"L","x":1773,"y":697.5},{"k":"L","x":1829,"y":698.6},{"k":"L","x":1886,"y":701},{"k":"L","x":1943,"y":702.7},{"k":"L","x":2024,"y":703.3},{"k":"L","x":2064,"y":692.8},{"k":"L","x":2092,"y":694},{"k":"L","x":2150,"y":698.6},{"k":"L","x":2207,"y":701.6},{"k":"L","x":2264,"y":703.3},{"k":"L","x":2310,"y":703.3},{"k":"L","x":2339,"y":702.7},{"k":"L","x":2344,"y":649.9},{"k":"L","x":2367,"y":654.5},{"k":"L","x":2447,"y":654.5},{"k":"L","x":2493,"y":652.2},{"k":"L","x":2516,"y":649.9},{"k":"L","x":2539,"y":651},{"k":"L","x":2596,"y":653.9},{"k":"L","x":2665,"y":656.8},{"k":"L","x":2699,"y":660.3},{"k":"L","x":2722,"y":658},{"k":"L","x":2791,"y":658},{"k":"L","x":2848,"y":659.8},{"k":"L","x":2871,"y":656.8},{"k":"L","x":2877,"y":651},{"k":"L","x":2905,"y":652.2},{"k":"L","x":2963,"y":655.7},{"k":"L","x":3031,"y":661.5},{"k":"L","x":3089,"y":665},{"k":"L","x":3123,"y":663.8},{"k":"L","x":3169,"y":664.4},{"k":"L","x":3215,"y":665},{"k":"L","x":3243,"y":666.7},{"k":"L","x":3255,"y":654},{"k":"L","x":3265,"y":654}
    ]
  },
  "spacing": 59,
  "vconcat": [
    {
      "width": 2128,
      "height": 1313,
      "data": {"name": "a"},
      "title": {"text": "(a)", "orient": "bottom", "anchor": "middle", "offset": 136, "dx": -80},
      "mark": {"type": "line", "strokeWidth": 6, "strokeCap": "butt"},
      "encoding": {
        "x": {"field": "x", "type": "quantitative", "title": "Sample",
              "scale": {"domain": [0, 3500], "nice": false},
              "axis": {"values": [0, 500, 1000, 1500, 2000, 2500, 3000, 3500], "format": "d", "labelFlush": false, "labelPadding": 71, "titlePadding": 39, "titleX": 1021}},
        "y": {"field": "y", "type": "quantitative", "title": "Vertical displacement(mm)",
              "scale": {"domain": [0, 6], "nice": false},
              "axis": {"values": [0, 2, 4, 6], "format": "d", "titlePadding": 60}},
        "color": {"field": "k", "type": "nominal",
                  "scale": {"domain": ["R", "W", "D", "A", "L"], "range": ["#000000", "#FF0000", "#0070C0", "#00B050", "#7030A0"]},
                  "legend": {"title": null, "orient": "none", "legendX": 49, "legendY": -47, "symbolType": "M-1.37,0H1.37", "symbolSize": 20000, "symbolStrokeWidth": 6, "labelOffset": 40, "rowPadding": 0, "padding": 0,
                             "labelExpr": "datum.label == 'R' ? 'Real test results' : datum.label == 'W' ? 'Prediction results by WO-DBN' : datum.label == 'D' ? 'Prediction results by DBN' : datum.label == 'A' ? 'Prediction results by ANN' : 'Prediction results by LSTM'"}},
        "strokeDash": {"field": "k", "type": "nominal",
                  "scale": {"domain": ["R", "W", "D", "A", "L"], "range": [[1, 0], [15, 7], [22, 16], [44, 17], [44, 14, 6, 14]]},
                  "legend": {"title": null, "orient": "none", "legendX": 49, "legendY": -47, "symbolType": "M-1.37,0H1.37", "symbolSize": 20000, "symbolStrokeWidth": 6, "labelOffset": 40, "rowPadding": 0, "padding": 0,
                             "labelExpr": "datum.label == 'R' ? 'Real test results' : datum.label == 'W' ? 'Prediction results by WO-DBN' : datum.label == 'D' ? 'Prediction results by DBN' : datum.label == 'A' ? 'Prediction results by ANN' : 'Prediction results by LSTM'"}}
      }
    },
    {
      "width": 2140,
      "height": 1373,
      "data": {"name": "b"},
      "title": {"text": "(b)", "orient": "bottom", "anchor": "middle", "offset": 107, "dx": -88},
      "mark": {"type": "line", "strokeWidth": 6, "strokeCap": "butt"},
      "encoding": {
        "x": {"field": "x", "type": "quantitative", "title": "Sample",
              "scale": {"domain": [0, 3500], "nice": false, "range": [74, 2140]},
              "axis": {"values": [0, 500, 1000, 1500, 2000, 2500, 3000, 3500], "format": "d", "labelFlush": false, "labelPadding": 71, "titlePadding": 39, "titleX": 1104}},
        "y": {"field": "y", "type": "quantitative", "title": "Horizontal stress(kPa)",
              "scale": {"domain": [550, 800], "nice": false},
              "axis": {"values": [550, 600, 650, 700, 750, 800], "format": "d", "titlePadding": 55, "offset": -74}},
        "color": {"field": "k", "type": "nominal",
                  "scale": {"domain": ["R", "W", "D", "A", "L"], "range": ["#000000", "#FF0000", "#0070C0", "#00B050", "#7030A0"]},
                  "legend": {"title": null, "orient": "none", "legendX": 144, "legendY": -50, "symbolType": "M-1.37,0H1.37", "symbolSize": 20000, "symbolStrokeWidth": 6, "labelOffset": 43, "rowPadding": 0, "padding": 0,
                             "labelExpr": "datum.label == 'R' ? 'Real test results' : datum.label == 'W' ? 'Prediction results by WO-DBN' : datum.label == 'D' ? 'Prediction results by DBN' : datum.label == 'A' ? 'Prediction results by ANN' : 'Prediction results by LSTM'"}},
        "strokeDash": {"field": "k", "type": "nominal",
                  "scale": {"domain": ["R", "W", "D", "A", "L"], "range": [[1, 0], [15, 7], [22, 16], [44, 17], [44, 14, 6, 14]]},
                  "legend": {"title": null, "orient": "none", "legendX": 144, "legendY": -50, "symbolType": "M-1.37,0H1.37", "symbolSize": 20000, "symbolStrokeWidth": 6, "labelOffset": 43, "rowPadding": 0, "padding": 0,
                             "labelExpr": "datum.label == 'R' ? 'Real test results' : datum.label == 'W' ? 'Prediction results by WO-DBN' : datum.label == 'D' ? 'Prediction results by DBN' : datum.label == 'A' ? 'Prediction results by ANN' : 'Prediction results by LSTM'"}}
      }
    }
  ],
  "resolve": {"scale": {"color": "independent", "strokeDash": "independent", "x": "independent", "y": "independent"}, "legend": {"color": "independent", "strokeDash": "independent"}}
}
